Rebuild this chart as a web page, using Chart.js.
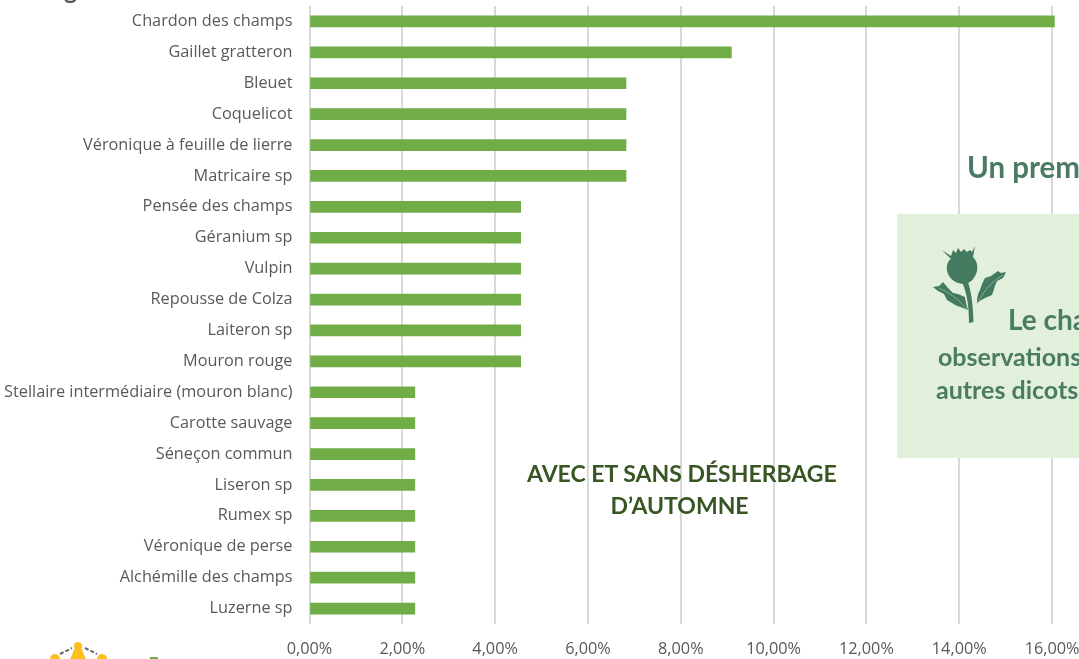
<!DOCTYPE html>
<html lang="fr">
<head>
<meta charset="utf-8">
<title>Adventices observées</title>
<script src="https://cdn.jsdelivr.net/npm/chart.js@4/dist/chart.umd.min.js"></script>
<style>
  html, body { margin: 0; padding: 0; background: #fff; overflow: hidden; }
  #page { position: relative; width: 1079px; height: 659px; overflow: hidden; font-family: Lato, sans-serif; }
  #chart { position: absolute; left: 0; top: 0; }
  .note { position: absolute; white-space: nowrap; font-weight: 700; color: #4a7c63; }
  #box { position: absolute; left: 897px; top: 214px; width: 182px; height: 244px; background: #e2efda; }
  #subtitle { left: 527px; top: 457px; width: 309px; text-align: center; color: #375623; font-size: 23px; line-height: 32px; }
  #subtitle span { position: relative; left: -2px; }
</style>
</head>
<body>
<div id="page">
  <canvas id="chart" width="1079" height="659"></canvas>
  <div class="note" style="left:64px;top:-26px;font-size:25px;color:#595959">g</div>
  <div class="note" id="subtitle">AVEC ET SANS DÉSHERBAGE<br><span>D’AUTOMNE</span></div>
  <div class="note" style="left:967px;top:149px;font-size:29.5px">Un prem</div>
  <div id="box"></div>
  <div class="note" style="left:1008px;top:302px;font-size:28px">Le cha</div>
  <div class="note" style="left:938px;top:341px;font-size:25px">observations</div>
  <div class="note" style="left:936px;top:374px;font-size:25px">autres dicots</div>
  <!-- thistle -->
  <svg style="position:absolute;left:925px;top:240px" width="90" height="90" viewBox="0 0 90 90">
    <g fill="#447a5f">
      <path d="M17 10 L26 16 L28 10 L31 13 L33 8 L36 12 L39 9 L42 12 L45 10 L47 12 L50 6 L48 17 C52 21 53 26 52 31 C50 39 45 43 40 44 C30 44 23 38 22 30 C21 24 24 20 26 19 Z"/>
      <path d="M37 42 L43 42 C46 52 48 62 48.5 82 L44 83 C44 66 42 53 37 42 Z"/>
      <path d="M8 47 L14 46 L18 42 L23 48 L28 53 L33 54 L40 57 L41 63 L43 70 C36 67 31 66 27 63 L22 60 L19 54 C15 52 11 50 8 47 Z"/>
      <path d="M52 63 C52 57 53 53 55 50 L57 44 L60 38 L66 36 L73 31 L76 33 L81 32 L78 38 L72 41 L70 46 L67 55 L60 58 C57 60 54 61 52 63 Z"/>
    </g>
    <path d="M14 48 C24 52 34 60 42 69 M54 61 C58 52 66 42 78 35" stroke="#8fb8a2" stroke-width="0.8" fill="none"/>
  </svg>
  <!-- bits of the logo cut by the bottom edge -->
  <svg style="position:absolute;left:45px;top:640px" width="125" height="19" viewBox="0 0 125 19">
    <g fill="#fcc01e">
      <circle cx="33" cy="6" r="4"/>
      <path d="M29 9 h8 l2 6 l2 4 h-16 l2 -4 Z"/>
      <circle cx="10" cy="19" r="5"/>
      <circle cx="57" cy="19" r="5"/>
    </g>
    <path d="M15 14 L27 8 M40 8 L52 14" stroke="#666" stroke-width="2" stroke-dasharray="4 2" fill="none"/>
    <rect x="105" y="17" width="8" height="2" fill="#70ad47"/>
  </svg>
</div>
<script>
var categories = [
  "Chardon des champs", "Gaillet gratteron", "Bleuet", "Coquelicot",
  "Véronique à feuille de lierre", "Matricaire sp", "Pensée des champs",
  "Géranium sp", "Vulpin", "Repousse de Colza", "Laiteron sp", "Mouron rouge",
  "Stellaire intermédiaire (mouron blanc)", "Carotte sauvage", "Séneçon commun",
  "Liseron sp", "Rumex sp", "Véronique de perse", "Alchémille des champs", "Luzerne sp"
];
var shares = [
  16.05, 9.09, 6.82, 6.82, 6.82, 6.82, 4.55, 4.55, 4.55, 4.55, 4.55, 4.55,
  2.27, 2.27, 2.27, 2.27, 2.27, 2.27, 2.27, 2.27
];
var axisTicks = [0, 2, 4, 6, 8, 10, 12, 14, 16];

// the plot runs off the right edge of the picture
var axisMax = 16.58;

var labelFont = { family: "Open Sans", size: 16.3 };

// no room kept for half labels at the ends of the axes
function noEndPadding(axis) {
  axis.paddingTop = 0;
  axis.paddingBottom = 0;
  axis.paddingLeft = 0;
  axis.paddingRight = 0;
}

new Chart(document.getElementById("chart"), {
  type: "bar",
  data: {
    labels: categories,
    datasets: [{ data: shares, backgroundColor: "#70ad47", barThickness: 11 }]
  },
  options: {
    indexAxis: "y",
    responsive: false,
    animation: false,
    layout: { padding: { top: 6, right: 0, bottom: 0, left: 0 } },
    plugins: { legend: { display: false }, tooltip: { enabled: false } },
    scales: {
      x: {
        min: 0,
        max: axisMax,
        border: { display: false },
        grid: { color: "#d9d9d9", lineWidth: 2, drawTicks: false },
        afterBuildTicks: function (axis) {
          axis.ticks = axisTicks.map(function (v) { return { value: v }; });
        },
        afterFit: function (axis) { axis.height = 35; noEndPadding(axis); },
        ticks: {
          color: "#595959",
          font: labelFont,
          padding: 16,
          maxRotation: 0,
          autoSkip: false,
          callback: function (v) { return v.toFixed(2).replace(".", ",") + "%"; }
        }
      },
      y: {
        border: { display: false },
        grid: { display: false },
        afterFit: function (axis) { axis.width = 309.5; noEndPadding(axis); },
        ticks: { color: "#595959", font: labelFont, padding: 9, autoSkip: false }
      }
    }
  }
});
</script>
</body>
</html>
